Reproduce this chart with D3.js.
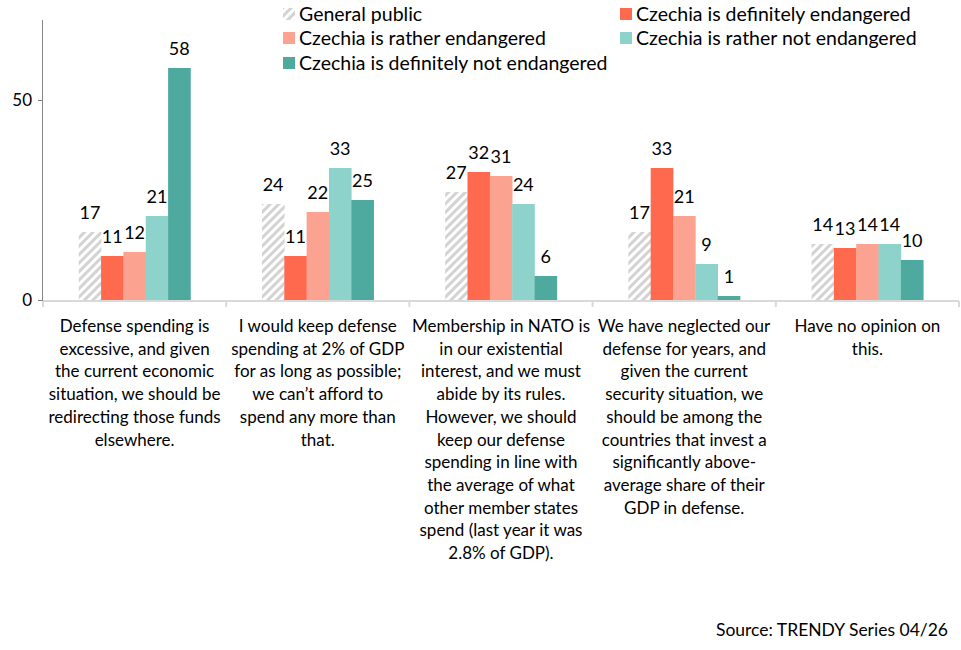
<!DOCTYPE html>
<html>
<head>
<meta charset="utf-8">
<script src="https://cdn.jsdelivr.net/npm/d3@7"></script>
<style>
  body { margin: 0; background: #fff; }
  text { font-family: Lato, "Open Sans", sans-serif; fill: #000; }
</style>
</head>
<body>
<div id="chart"></div>
<script>
// data
const categories = [
  ["Defense spending is", "excessive, and given", "the current economic", "situation, we should be", "redirecting those funds", "elsewhere."],
  ["I would keep defense", "spending at 2% of GDP", "for as long as possible;", "we can\u2019t afford to", "spend any more than", "that."],
  ["Membership in NATO is", "in our existential", "interest, and we must", "abide by its rules.", "However, we should", "keep our defense", "spending in line with", "the average of what", "other member states", "spend (last year it was", "2.8% of GDP)."],
  ["We have neglected our", "defense for years, and", "given the current", "security situation, we", "should be among the", "countries that invest a", "significantly above-", "average share of their", "GDP in defense."],
  ["Have no opinion on", "this."]
];
const seriesNames = [
  "General public",
  "Czechia is definitely endangered",
  "Czechia is rather endangered",
  "Czechia is rather not endangered",
  "Czechia is definitely not endangered"
];
const generalPublic = [17, 24, 27, 17, 14];
const definitelyEndangered = [11, 11, 32, 33, 13];
const ratherEndangered = [12, 22, 31, 21, 14];
const ratherNotEndangered = [21, 33, 24, 9, 14];
const definitelyNotEndangered = [58, 25, 6, 1, 10];
const yTicks = [0, 50];

const seriesValues = [generalPublic, definitelyEndangered, ratherEndangered, ratherNotEndangered, definitelyNotEndangered];
const colors = ["url(#hatch)", "#ff694d", "#fca290", "#8dd3cb", "#4ea99f"];

const width = 961, height = 650;
const margin = { top: 20, right: 2, bottom: 350, left: 43 };

const svg = d3.select("#chart").append("svg")
  .attr("width", width)
  .attr("height", height);

// hatch pattern for general public
const defs = svg.append("defs");
defs.append("pattern")
  .attr("id", "hatch")
  .attr("patternUnits", "userSpaceOnUse")
  .attr("width", 6)
  .attr("height", 6)
  .attr("patternTransform", "rotate(45)")
  .call(p => {
    p.append("rect").attr("width", 6).attr("height", 6).attr("fill", "#fff");
    p.append("rect").attr("width", 3).attr("height", 6).attr("fill", "#d3d3d3");
  });

const x0 = d3.scaleBand()
  .domain(d3.range(categories.length))
  .range([margin.left, width - margin.right])
  .paddingInner(0)
  .paddingOuter(0);

const x1 = d3.scaleBand()
  .domain(d3.range(seriesNames.length))
  .range([0, x0.bandwidth()])
  .paddingOuter(1.6);

const y = d3.scaleLinear()
  .domain([0, 70])
  .range([height - margin.bottom, margin.top]);

// y axis
const yAxis = svg.append("g")
  .attr("transform", `translate(${margin.left},0)`)
  .call(d3.axisLeft(y).tickValues(yTicks).tickSize(5).tickPadding(6));
yAxis.select(".domain").attr("stroke", "#868686").attr("d", `M-0.5,${y(0)}V${y(70)}`);
yAxis.selectAll(".tick line").attr("stroke", "#868686");
yAxis.selectAll(".tick text").style("font-size", "17px").style("font-family", "Lato, sans-serif").attr("fill", "#000");

// bars
const groups = svg.append("g").selectAll("g")
  .data(categories)
  .join("g")
  .attr("transform", (d, i) => `translate(${x0(i)},0)`);

groups.selectAll("rect")
  .data((d, i) => seriesValues.map((s, j) => ({ s: j, v: s[i] })))
  .join("rect")
  .attr("x", d => x1(d.s))
  .attr("width", x1.bandwidth() + 0.3)
  .attr("y", d => y(d.v))
  .attr("height", d => y(0) - y(d.v))
  .attr("fill", d => colors[d.s]);

groups.selectAll("text.val")
  .data((d, i) => seriesValues.map((s, j) => ({ s: j, v: s[i] })))
  .join("text")
  .attr("class", "val")
  .attr("x", d => x1(d.s) + x1.bandwidth() / 2)
  .attr("y", d => y(d.v) - 13)
  .attr("text-anchor", "middle")
  .style("font-size", "18px")
  .text(d => d.v);

// x axis
const xAxis = svg.append("g")
  .attr("transform", `translate(0,${y(0) + 1})`);
xAxis.append("line")
  .attr("x1", margin.left).attr("x2", width - margin.right)
  .attr("stroke", "#d9d9d9").attr("stroke-width", 2);
xAxis.selectAll("line.tick")
  .data(d3.range(categories.length + 1))
  .join("line")
  .attr("class", "tick")
  .attr("x1", i => i < categories.length ? x0(i) : x0(i - 1) + x0.bandwidth())
  .attr("x2", i => i < categories.length ? x0(i) : x0(i - 1) + x0.bandwidth())
  .attr("y1", 0).attr("y2", 6)
  .attr("stroke", "#d9d9d9").attr("stroke-width", 2);

// category labels
groups.append("text")
  .attr("text-anchor", "middle")
  .style("font-size", "17px")
  .selectAll("tspan")
  .data(d => d)
  .join("tspan")
  .attr("x", x0.bandwidth() / 2)
  .attr("y", (d, i) => y(0) + 32 + i * 22.7)
  .text(d => d);

// legend
const legendPos = [[283, 14], [620, 14], [283, 38], [620, 38], [283, 63]];
const legend = svg.append("g").selectAll("g")
  .data(seriesNames)
  .join("g")
  .attr("transform", (d, i) => `translate(${legendPos[i][0]},${legendPos[i][1]})`);
legend.append("rect")
  .attr("x", 0).attr("y", -6)
  .attr("width", 12).attr("height", 12)
  .attr("fill", (d, i) => colors[i]);
legend.append("text")
  .attr("x", 16)
  .attr("dy", "0.35em")
  .style("font-size", "19.5px")
  .text(d => d);

// source note
svg.append("text")
  .attr("x", 948)
  .attr("y", 636)
  .attr("text-anchor", "end")
  .style("font-size", "17.5px")
  .text("Source: TRENDY Series 04/26");
</script>
</body>
</html>
